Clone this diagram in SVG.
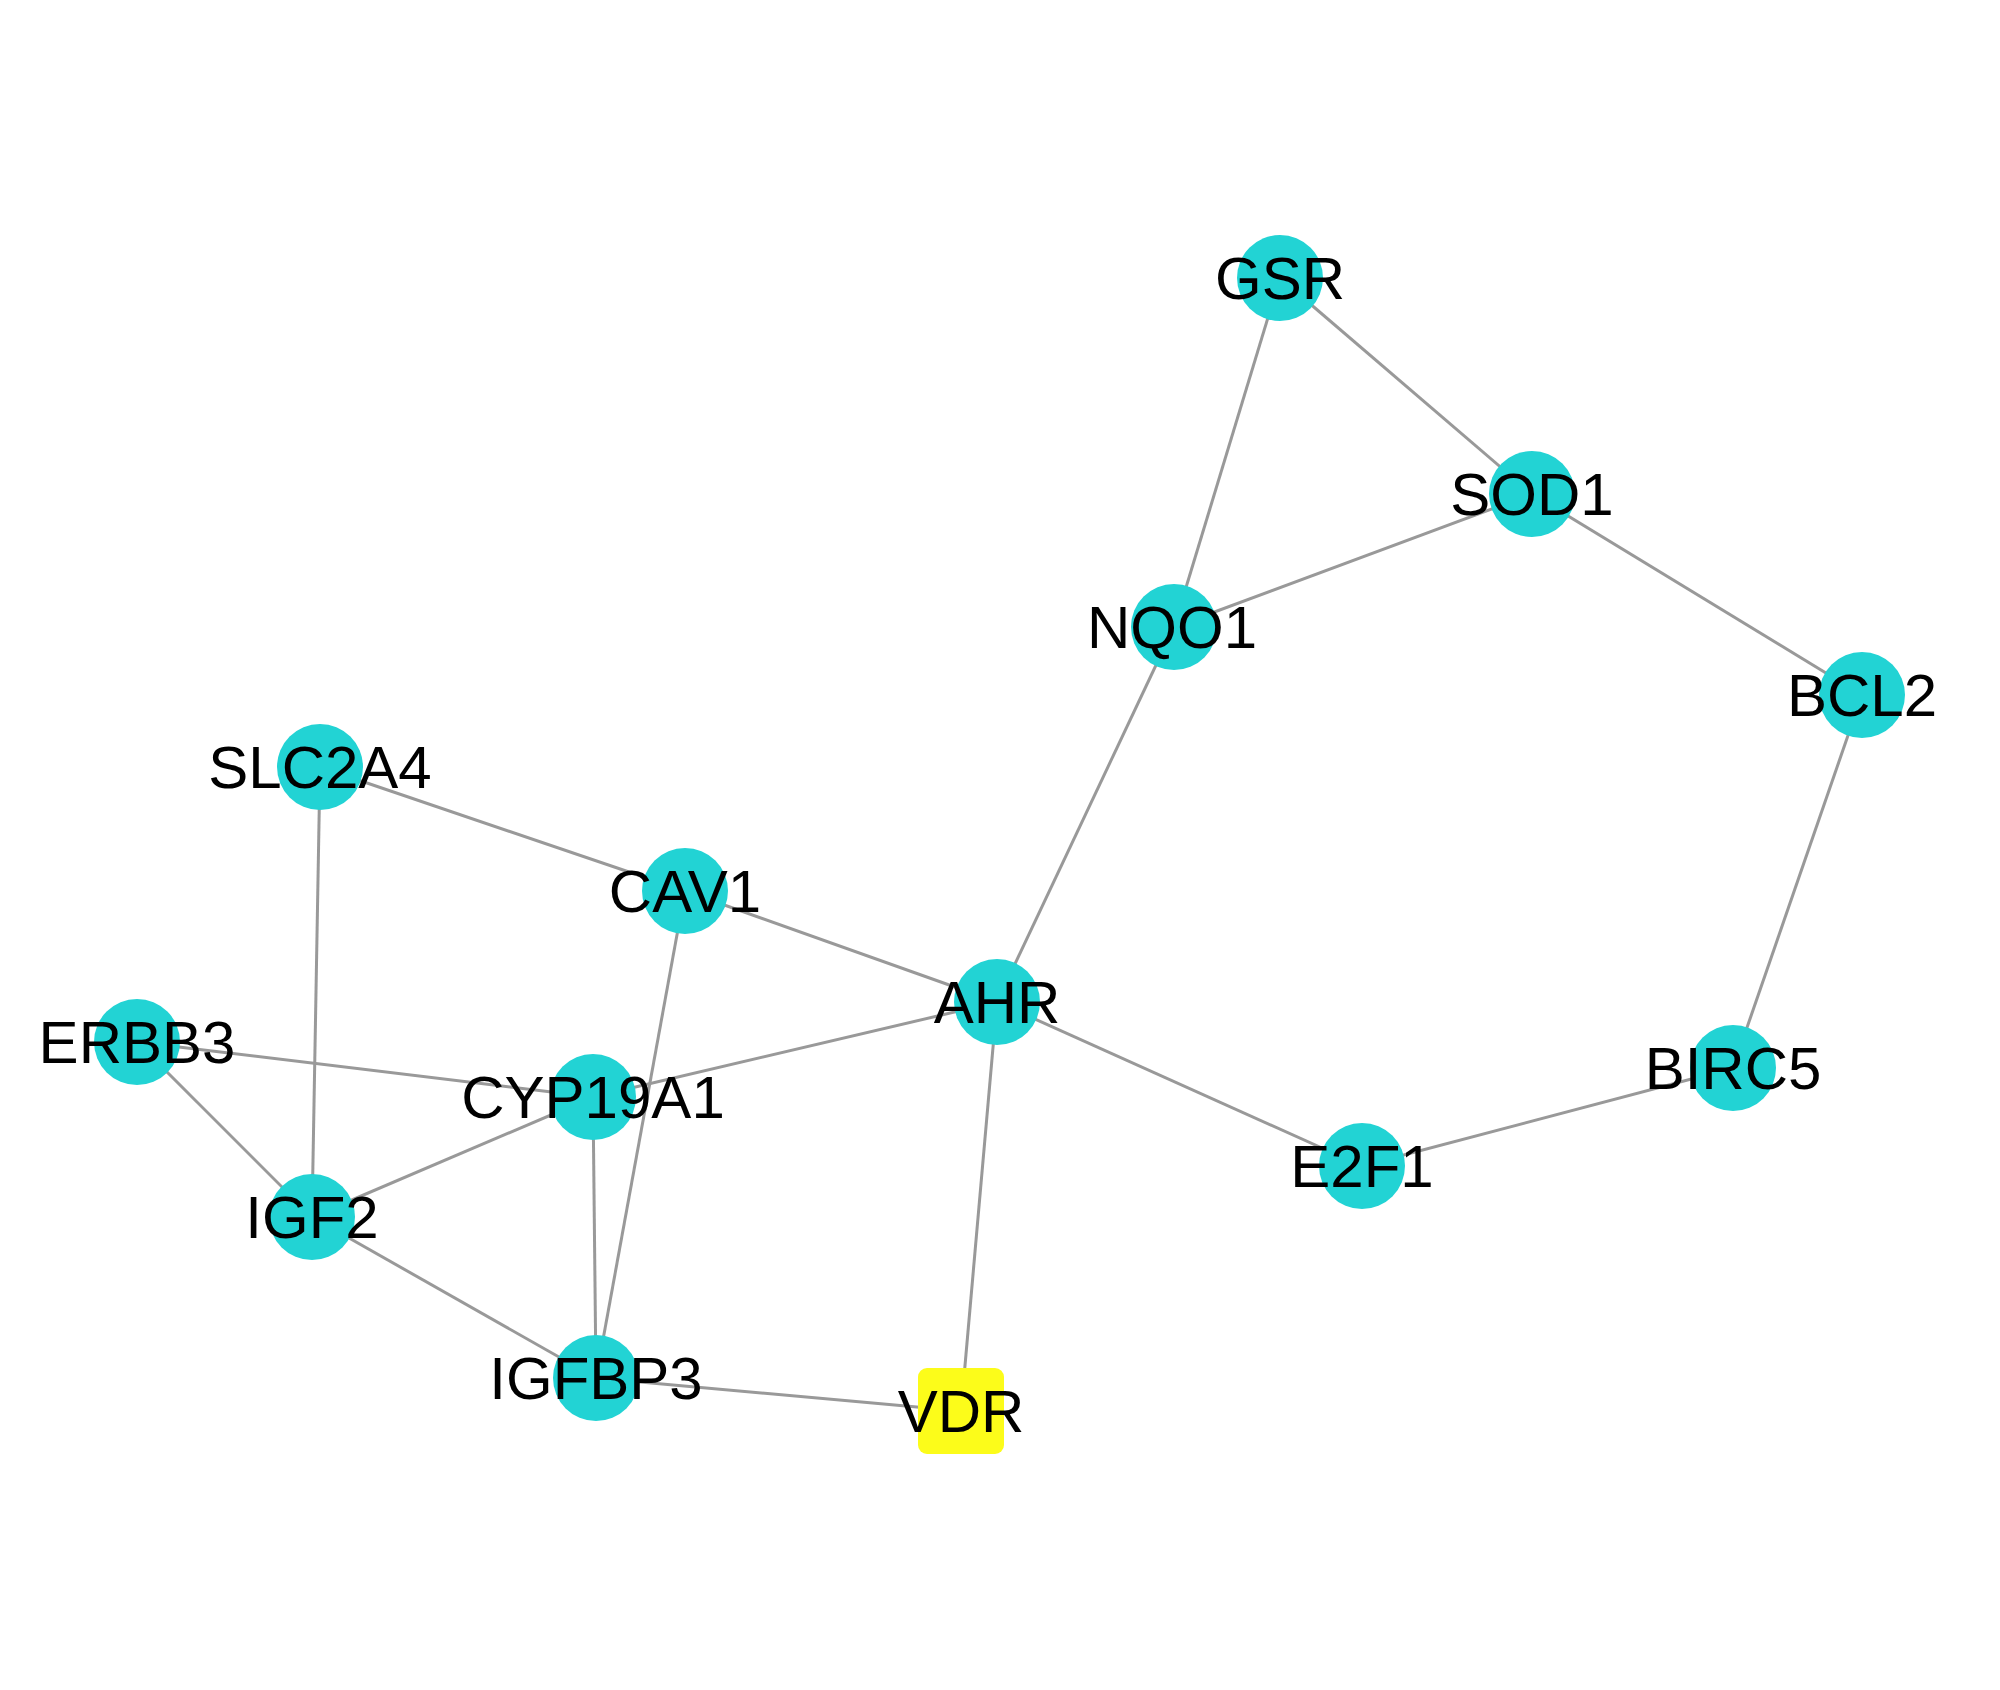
<svg xmlns="http://www.w3.org/2000/svg" width="2000" height="1690" viewBox="0 0 2000 1690">
<style>
.e{stroke:#999999;stroke-width:3;fill:none}
.n{fill:#22D3D4}
.v{fill:#FCFC1A}
.t{font-family:"Liberation Sans",Arial,sans-serif;font-size:60px;fill:#000;text-anchor:middle}
</style>
<rect width="2000" height="1690" fill="#ffffff"/>
<g id="edges">
<line class="e" x1="1280" y1="278" x2="1532" y2="494"/>
<line class="e" x1="1280" y1="278" x2="1174" y2="627"/>
<line class="e" x1="1532" y1="494" x2="1174" y2="627"/>
<line class="e" x1="1532" y1="494" x2="1862" y2="695"/>
<line class="e" x1="1862" y1="695" x2="1733" y2="1068"/>
<line class="e" x1="1733" y1="1068" x2="1362" y2="1166"/>
<line class="e" x1="1362" y1="1166" x2="997" y2="1002"/>
<line class="e" x1="997" y1="1002" x2="1174" y2="627"/>
<line class="e" x1="997" y1="1002" x2="685" y2="891"/>
<line class="e" x1="997" y1="1002" x2="593" y2="1097"/>
<line class="e" x1="997" y1="1002" x2="961" y2="1411"/>
<line class="e" x1="961" y1="1411" x2="596" y2="1378"/>
<line class="e" x1="685" y1="891" x2="320" y2="767"/>
<line class="e" x1="685" y1="891" x2="596" y2="1378"/>
<line class="e" x1="320" y1="767" x2="312" y2="1217"/>
<line class="e" x1="137" y1="1042" x2="593" y2="1097"/>
<line class="e" x1="137" y1="1042" x2="312" y2="1217"/>
<line class="e" x1="593" y1="1097" x2="312" y2="1217"/>
<line class="e" x1="593" y1="1097" x2="596" y2="1378"/>
<line class="e" x1="312" y1="1217" x2="596" y2="1378"/>
</g>
<g id="GSR"><circle class="n" cx="1280" cy="278" r="43"/><text class="t" x="1280" y="299">GSR</text></g>
<g id="SOD1"><circle class="n" cx="1532" cy="494" r="43"/><text class="t" x="1532" y="515">SOD1</text></g>
<g id="NQO1"><circle class="n" cx="1174" cy="627" r="43"/><text class="t" x="1172" y="648">NQO1</text></g>
<g id="BCL2"><circle class="n" cx="1862" cy="695" r="43"/><text class="t" x="1862" y="716">BCL2</text></g>
<g id="SLC2A4"><circle class="n" cx="320" cy="767" r="43"/><text class="t" x="320" y="788">SLC2A4</text></g>
<g id="CAV1"><circle class="n" cx="685" cy="891" r="43"/><text class="t" x="685" y="912">CAV1</text></g>
<g id="AHR"><circle class="n" cx="997" cy="1002" r="43"/><text class="t" x="997" y="1023">AHR</text></g>
<g id="ERBB3"><circle class="n" cx="137" cy="1042" r="43"/><text class="t" x="137" y="1063">ERBB3</text></g>
<g id="BIRC5"><circle class="n" cx="1733" cy="1068" r="43"/><text class="t" x="1733" y="1089">BIRC5</text></g>
<g id="CYP19A1"><circle class="n" cx="593" cy="1097" r="43"/><text class="t" x="593" y="1118">CYP19A1</text></g>
<g id="E2F1"><circle class="n" cx="1362" cy="1166" r="43"/><text class="t" x="1362" y="1187">E2F1</text></g>
<g id="IGF2"><circle class="n" cx="312" cy="1217" r="43"/><text class="t" x="312" y="1238">IGF2</text></g>
<g id="IGFBP3"><circle class="n" cx="596" cy="1378" r="43"/><text class="t" x="596" y="1399">IGFBP3</text></g>
<g id="VDR"><rect class="v" x="918" y="1368" width="86" height="86" rx="9" ry="9"/><text class="t" x="961" y="1432">VDR</text></g>
</svg>
